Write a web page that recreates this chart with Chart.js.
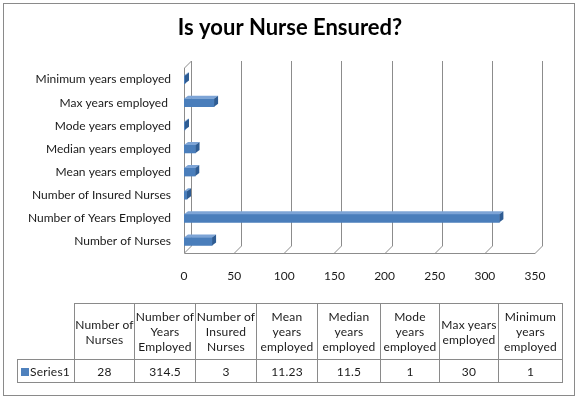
<!DOCTYPE html>
<html>
<head>
<meta charset="utf-8">
<script src="https://cdn.jsdelivr.net/npm/chart.js@4.4.1/dist/chart.umd.min.js"></script>
<style>
  html,body{margin:0;padding:0;background:#fff;}
  #wrap{position:relative;width:579px;height:399px;overflow:hidden;}
  #frame{position:absolute;left:3px;top:3px;width:572px;height:393px;border:1px solid #8a8a8a;box-sizing:border-box;}
  canvas{position:absolute;left:0;top:0;}
  #tbl{position:absolute;left:17px;top:303px;border-collapse:collapse;font-family:Lato,"DejaVu Sans",sans-serif;font-size:12px;letter-spacing:0.2px;color:#1a1a1a;table-layout:fixed;}
  #tbl td{border:1px solid #8a8a8a;text-align:center;padding:0;line-height:15px;}
  #tbl td.blank{border:none;}
  #tbl tr.h td{height:55px;}
  #tbl tr.d td{height:22px;}
  #tbl td.ser{text-align:left;padding-left:3px;}
  .sw{display:inline-block;width:8px;height:8px;background:#4F81BD;margin-right:1px;vertical-align:-0px;}
</style>
</head>
<body>
<div id="wrap">
  <canvas id="c" width="579" height="300"></canvas>
  <div id="frame"></div>
  <table id="tbl"></table>
</div>
<script>
// ---- data ----
const chartTitle = 'Is your Nurse Ensured?';
const seriesName = 'Series1';
const categories = [
  'Number of Nurses',
  'Number of Years Employed',
  'Number of Insured Nurses',
  'Mean years employed',
  'Median years employed',
  'Mode years employed',
  'Max years employed ',
  'Minimum years employed'
];
const headerLines = [
  ['Number of', 'Nurses'],
  ['Number of', 'Years', 'Employed'],
  ['Number of', 'Insured', 'Nurses'],
  ['Mean', 'years', 'employed'],
  ['Median', 'years', 'employed'],
  ['Mode', 'years', 'employed'],
  ['Max years', 'employed'],
  ['Minimum', 'years', 'employed']
];
const values = [28, 314.5, 3, 11.23, 11.5, 1, 30, 1];
const xMin = 0, xMax = 350, xStep = 50;

// ---- table ----
const colWidths = [57, 60, 61, 61, 61, 63, 59, 59, 64];
(function buildTable(){
  const t = document.getElementById('tbl');
  const cg = document.createElement('colgroup');
  colWidths.forEach(w => { const c = document.createElement('col'); c.style.width = w + 'px'; cg.appendChild(c); });
  t.appendChild(cg);
  const h = document.createElement('tr'); h.className = 'h';
  const b = document.createElement('td'); b.className = 'blank'; h.appendChild(b);
  headerLines.forEach(lines => { const td = document.createElement('td'); td.innerHTML = lines.join('<br>'); h.appendChild(td); });
  t.appendChild(h);
  const d = document.createElement('tr'); d.className = 'd';
  const s = document.createElement('td'); s.className = 'ser';
  s.innerHTML = '<span class="sw"></span>' + seriesName; d.appendChild(s);
  values.forEach(v => { const td = document.createElement('td'); td.textContent = String(v); d.appendChild(td); });
  t.appendChild(d);
})();

const FONT = 'Lato, "DejaVu Sans", sans-serif';

// ---- 3D plugin + centred title ----
const D = 7;          // wall depth
const BD = 4, BDY = 3; // bar depth
const walls = {
  id: 'walls',
  beforeDatasetsDraw(chart) {
    const {ctx, chartArea: a, scales: {x}} = chart;
    ctx.save();
    ctx.strokeStyle = '#8c8c8c';
    ctx.lineWidth = 1;
    x.ticks.forEach(t => {
      const px = Math.round(x.getPixelForValue(t.value)) + 0.5;
      ctx.beginPath();
      ctx.moveTo(px + D, Math.round(a.top) - D);
      ctx.lineTo(px + D, Math.round(a.bottom) - D);
      ctx.lineTo(px, Math.round(a.bottom));
      ctx.stroke();
    });
    const L = Math.round(a.left) + 0.5, B = Math.round(a.bottom) + 0.5, T = Math.round(a.top);
    ctx.beginPath();
    ctx.moveTo(L, T);
    ctx.lineTo(L, B);
    ctx.lineTo(Math.round(x.getPixelForValue(xMax)) + 0.5, B);
    ctx.moveTo(L, T);
    ctx.lineTo(L + D, T - D);
    ctx.stroke();
    ctx.restore();
  },
  afterDatasetsDraw(chart) {
    const {ctx} = chart;
    const meta = chart.getDatasetMeta(0);
    ctx.save();
    meta.data.forEach(el => {
      const p = el.getProps(['x', 'y', 'base', 'height'], true);
      const x0 = Math.min(p.base, p.x), x1 = Math.max(p.base, p.x);
      const top = p.y - p.height / 2, bot = p.y + p.height / 2;
      ctx.fillStyle = '#7DA4D6';
      ctx.beginPath();
      ctx.moveTo(x0, top); ctx.lineTo(x1, top);
      ctx.lineTo(x1 + BD, top - BDY); ctx.lineTo(x0 + BD, top - BDY);
      ctx.closePath(); ctx.fill();
      ctx.fillStyle = '#2E5C93';
      ctx.beginPath();
      ctx.moveTo(x1, top); ctx.lineTo(x1 + BD, top - BDY);
      ctx.lineTo(x1 + BD, bot - BDY); ctx.lineTo(x1, bot);
      ctx.closePath(); ctx.fill();
    });
    ctx.restore();
  },
  afterDraw(chart) {
    const {ctx} = chart;
    ctx.save();
    ctx.fillStyle = '#000';
    ctx.font = 'bold 22px ' + FONT;
    ctx.textAlign = 'center';
    ctx.textBaseline = 'middle';
    ctx.fillText(chartTitle, 290, 28);
    ctx.restore();
  }
};

new Chart(document.getElementById('c'), {
  type: 'bar',
  data: {
    labels: categories,
    datasets: [{
      label: seriesName,
      data: values,
      backgroundColor: '#4A7EBB',
      barThickness: 8
    }]
  },
  options: {
    indexAxis: 'y',
    responsive: false,
    animation: false,
    layout: {padding: {left: 0, right: 44, top: 68, bottom: 0}},
    plugins: {
      legend: {display: false},
      tooltip: {enabled: false},
      title: {display: false}
    },
    scales: {
      x: {
        min: xMin, max: xMax,
        ticks: {stepSize: xStep, padding: 16, color: '#1a1a1a', font: {family: FONT, size: 12}},
        grid: {display: false, drawTicks: false},
        border: {display: false},
        afterFit(s) { s.height = 47; }
      },
      y: {
        reverse: true,
        ticks: {padding: 13, color: '#1a1a1a', font: {family: FONT, size: 12}},
        grid: {display: false, drawTicks: false},
        border: {display: false},
        afterFit(s) { s.width = 184; }
      }
    }
  },
  plugins: [walls]
});
</script>
</body>
</html>
